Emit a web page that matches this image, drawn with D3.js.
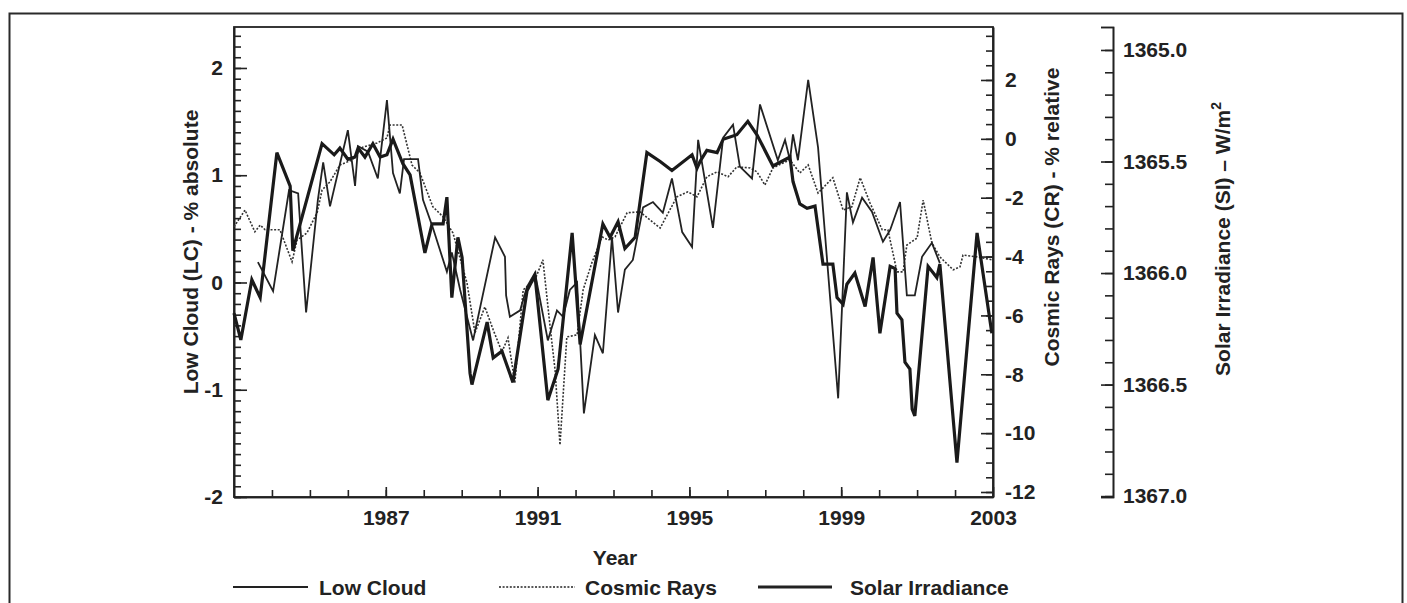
<!DOCTYPE html>
<html>
<head>
<meta charset="utf-8">
<script src="https://cdn.jsdelivr.net/npm/d3@7"></script>
<style>
body { margin: 0; background: #fff; }
svg text { font-family: "Liberation Sans", Arial, sans-serif; font-weight: bold; fill: #222; }
</style>
</head>
<body>
<div id="chart"></div>
<script>
// chart data
var lcYears = [1983.63, 1984.03, 1984.45, 1984.69, 1984.90, 1985.21, 1985.35, 1985.53, 1986.00, 1986.19,
    1986.27, 1986.53, 1986.79, 1987.03, 1987.19, 1987.37, 1987.48, 1987.85, 1987.98, 1988.24,
    1988.61, 1988.74, 1988.96, 1989.30, 1989.88, 1990.14, 1990.17, 1990.27, 1990.54, 1990.72,
    1990.93, 1991.27, 1991.51, 1991.67, 1991.85, 1992.04, 1992.22, 1992.51, 1992.72, 1992.96,
    1993.12, 1993.30, 1993.51, 1993.78, 1994.04, 1994.30, 1994.54, 1994.81, 1995.07, 1995.23,
    1995.62, 1995.89, 1996.15, 1996.33, 1996.65, 1996.86, 1997.33, 1997.52, 1997.65, 1997.73,
    1997.86, 1998.13, 1998.39, 1998.92, 1999.15, 1999.31, 1999.55, 1999.81, 2000.10, 2000.29,
    2000.55, 2000.73, 2000.94, 2001.13, 2001.39, 2001.60];
var lcValues = [0.19, -0.08, 0.86, 0.83, -0.28, 0.77, 1.12, 0.71, 1.42, 0.90,
    1.27, 1.22, 0.97, 1.70, 1.02, 0.83, 1.15, 1.15, 0.77, 0.51,
    0.10, 0.28, -0.07, -0.54, 0.42, 0.24, -0.12, -0.32, -0.26, -0.04,
    0.09, -0.54, -0.26, -0.32, -0.07, 0.00, -1.22, -0.49, -0.66, 0.42,
    -0.28, 0.12, 0.21, 0.70, 0.75, 0.65, 0.97, 0.47, 0.33, 1.33,
    0.51, 1.35, 1.47, 1.08, 0.97, 1.66, 1.14, 1.33, 1.14, 1.38,
    1.14, 1.89, 1.26, -1.08, 0.84, 0.56, 0.79, 0.66, 0.38, 0.49,
    0.75, -0.12, -0.12, 0.24, 0.37, 0.18];

var crYears = [1983.00, 1983.29, 1983.55, 1983.69, 1983.82, 1984.21, 1984.53, 1984.66, 1984.92, 1985.19,
    1985.32, 1985.53, 1985.79, 1986.11, 1986.40, 1986.77, 1987.03, 1987.11, 1987.43, 1987.69,
    1987.90, 1988.24, 1988.51, 1988.77, 1989.14, 1989.35, 1989.61, 1989.83, 1990.06, 1990.22,
    1990.40, 1990.62, 1990.93, 1991.14, 1991.33, 1991.46, 1991.59, 1991.77, 1992.04, 1992.20,
    1992.43, 1992.70, 1992.86, 1993.04, 1993.36, 1993.70, 1994.23, 1994.67, 1994.96, 1995.20,
    1995.46, 1995.73, 1996.02, 1996.25, 1996.60, 1996.78, 1996.99, 1997.20, 1997.47, 1997.65,
    1997.91, 1998.13, 1998.39, 1998.78, 1999.05, 1999.28, 1999.50, 1999.76, 2000.08, 2000.23,
    2000.47, 2000.63, 2000.73, 2001.00, 2001.16, 2001.39, 2001.60, 2001.95, 2002.13, 2002.21,
    2002.58, 2002.97];
var crValues = [-2.99, -2.42, -3.16, -2.93, -3.09, -3.09, -4.18, -3.44, -3.20, -2.51,
    -1.74, -1.46, -0.89, -0.72, -0.28, -0.14, 0.03, 0.47, 0.47, -0.89,
    -1.16, -2.31, -2.65, -3.20, -4.90, -6.59, -5.71, -6.49, -7.24, -6.76,
    -8.29, -5.13, -4.79, -4.11, -6.39, -7.85, -10.40, -6.73, -6.66, -5.13,
    -4.21, -3.33, -3.44, -3.33, -2.51, -2.48, -3.03, -1.97, -1.80, -1.97,
    -1.29, -1.12, -1.29, -0.95, -0.99, -1.12, -1.57, -0.99, -0.82, -0.72,
    -1.16, -0.89, -1.84, -1.32, -2.42, -2.31, -1.32, -2.18, -3.09, -3.09,
    -4.52, -4.52, -3.61, -3.37, -2.08, -3.54, -4.01, -4.45, -4.35, -3.95,
    -4.01, -4.11];

var siYears = [1983.00, 1983.18, 1983.47, 1983.69, 1984.13, 1984.48, 1984.55, 1985.32, 1985.64, 1985.79,
    1986.00, 1986.19, 1986.27, 1986.45, 1986.66, 1986.85, 1987.03, 1987.19, 1987.45, 1987.64,
    1988.03, 1988.22, 1988.51, 1988.61, 1988.74, 1988.90, 1989.01, 1989.22, 1989.27, 1989.67,
    1989.83, 1990.06, 1990.35, 1990.72, 1990.93, 1991.27, 1991.54, 1991.91, 1992.12, 1992.72,
    1992.91, 1993.12, 1993.30, 1993.57, 1993.88, 1994.23, 1994.54, 1995.07, 1995.20, 1995.28,
    1995.46, 1995.73, 1995.89, 1996.25, 1996.54, 1996.78, 1997.20, 1997.65, 1997.73, 1997.91,
    1998.10, 1998.31, 1998.52, 1998.78, 1998.89, 1999.05, 1999.15, 1999.36, 1999.63, 1999.84,
    2000.02, 2000.29, 2000.42, 2000.47, 2000.60, 2000.68, 2000.81, 2000.87, 2000.94, 2001.29,
    2001.52, 2001.60, 2002.05, 2002.58, 2002.97];
var siValues = [1366.18, 1366.30, 1366.03, 1366.11, 1365.46, 1365.61, 1365.90, 1365.42, 1365.47, 1365.44,
    1365.49, 1365.48, 1365.44, 1365.48, 1365.42, 1365.48, 1365.47, 1365.40, 1365.51, 1365.56,
    1365.91, 1365.78, 1365.78, 1365.66, 1366.11, 1365.84, 1365.93, 1366.45, 1366.50, 1366.22,
    1366.38, 1366.35, 1366.49, 1366.08, 1366.01, 1366.57, 1366.43, 1365.82, 1366.32, 1365.78,
    1365.84, 1365.77, 1365.89, 1365.84, 1365.46, 1365.50, 1365.54, 1365.47, 1365.53, 1365.50,
    1365.45, 1365.46, 1365.40, 1365.38, 1365.32, 1365.38, 1365.52, 1365.48, 1365.59, 1365.69,
    1365.71, 1365.70, 1365.96, 1365.96, 1366.11, 1366.14, 1366.05, 1366.00, 1366.15, 1365.93,
    1366.27, 1365.97, 1365.98, 1366.18, 1366.21, 1366.40, 1366.43, 1366.61, 1366.64, 1365.97,
    1366.02, 1365.96, 1366.85, 1365.82, 1366.27];

// tick values
var yearMajorTicks = [1987, 1991, 1995, 1999, 2003];
var lcMajorTicks = [-2, -1, 0, 1, 2];
var crMajorTicks = [-12, -10, -8, -6, -4, -2, 0, 2];
var siMajorTicks = [1365.0, 1365.5, 1366.0, 1366.5, 1367.0];

// set up the chart
var svgWidth = 1407;
var svgHeight = 603;
var margin = { top: 27, left: 234 };
var width = 993 - 234;
var height = 497 - 27;
var ink = "#222";

// plain hyphen for negatives, like the original
var fmtInt = d => String(d);
var fmtOne = d => d.toFixed(1);

var svg = d3.select("#chart")
    .append("svg")
    .attr("width", svgWidth)
    .attr("height", svgHeight);

// outer frame (runs off the bottom of the picture)
svg.append("rect")
    .attr("x", 9.5)
    .attr("y", 13.5)
    .attr("width", 1393)
    .attr("height", 700)
    .attr("fill", "none")
    .attr("stroke", "#2a2a2a")
    .attr("stroke-width", 2);

var chartGroup = svg.append("g")
    .attr("transform", `translate(${margin.left}, ${margin.top})`);

// scales
var xScale = d3.scaleLinear().domain([1983, 2003]).range([0, width]);
var lcScale = d3.scaleLinear().domain([-2, 2.382]).range([height, 0]);
var crScale = d3.scaleLinear().domain([-12.17, 3.80]).range([height, 0]);
var siScale = d3.scaleLinear().domain([1364.897, 1367.004]).range([0, height]);

function styleAxis(g, size) {
    g.selectAll("path, line").attr("stroke", ink).attr("stroke-width", 1.6);
    g.selectAll("text").attr("font-size", size);
}

// left axis (low cloud)
var lcMinor = chartGroup.append("g")
    .call(d3.axisLeft(lcScale)
        .tickValues(d3.range(-20, 24).map(i => i / 10))
        .tickSize(-7).tickSizeOuter(0).tickFormat(""));
styleAxis(lcMinor, 21);
var lcAxis = chartGroup.append("g")
    .call(d3.axisLeft(lcScale)
        .tickValues(lcMajorTicks)
        .tickSize(-13).tickSizeOuter(0).tickPadding(11)
        .tickFormat(fmtInt));
styleAxis(lcAxis, 21);

// bottom axis (year)
var xMinor = chartGroup.append("g")
    .attr("transform", `translate(0, ${height})`)
    .call(d3.axisBottom(xScale)
        .tickValues(d3.range(1984, 2003))
        .tickSize(-7).tickSizeOuter(0).tickFormat(""));
styleAxis(xMinor, 21);
var xAxis = chartGroup.append("g")
    .attr("transform", `translate(0, ${height})`)
    .call(d3.axisBottom(xScale)
        .tickValues(yearMajorTicks)
        .tickSize(-10).tickSizeOuter(0).tickPadding(13)
        .tickFormat(fmtInt));
styleAxis(xAxis, 21);

// right axis (cosmic rays)
var crMinor = chartGroup.append("g")
    .attr("transform", `translate(${width}, 0)`)
    .call(d3.axisRight(crScale)
        .tickValues(d3.range(-24, 8).map(i => i / 2))
        .tickSize(-7).tickSizeOuter(0).tickFormat(""));
styleAxis(crMinor, 21);
var crAxis = chartGroup.append("g")
    .attr("transform", `translate(${width}, 0)`)
    .call(d3.axisRight(crScale)
        .tickValues(crMajorTicks)
        .tickSize(-12).tickSizeOuter(0).tickPadding(12)
        .tickFormat(fmtInt));
styleAxis(crAxis, 21);

// separate axis for solar irradiance
var siX = 1113 - margin.left;
var siMinor = chartGroup.append("g")
    .attr("transform", `translate(${siX}, 0)`)
    .call(d3.axisRight(siScale)
        .tickValues(d3.range(0, 21).map(i => 1365 + i / 10))
        .tickSize(-8).tickSizeOuter(-12).tickFormat(""));
styleAxis(siMinor, 21);
var siAxis = chartGroup.append("g")
    .attr("transform", `translate(${siX}, 0)`)
    .call(d3.axisRight(siScale)
        .tickValues(siMajorTicks)
        .tickSize(-12).tickSizeOuter(-12).tickPadding(10)
        .tickFormat(fmtOne));
styleAxis(siAxis, 21);

// plot frame
chartGroup.append("rect")
    .attr("width", width)
    .attr("height", height)
    .attr("fill", "none")
    .attr("stroke", ink)
    .attr("stroke-width", 1.8);

// lines
var lcLine = d3.line().x(d => xScale(d[0])).y(d => lcScale(d[1]));
var crLine = d3.line().x(d => xScale(d[0])).y(d => crScale(d[1]));
var siLine = d3.line().x(d => xScale(d[0])).y(d => siScale(d[1]));

chartGroup.append("path")
    .datum(d3.zip(crYears, crValues))
    .attr("d", crLine)
    .attr("fill", "none")
    .attr("stroke", "#333")
    .attr("stroke-width", 1.6)
    .attr("stroke-dasharray", "2,1.6");

chartGroup.append("path")
    .datum(d3.zip(lcYears, lcValues))
    .attr("d", lcLine)
    .attr("fill", "none")
    .attr("stroke", ink)
    .attr("stroke-width", 1.8)
    .attr("stroke-linejoin", "miter");

chartGroup.append("path")
    .datum(d3.zip(siYears, siValues))
    .attr("d", siLine)
    .attr("fill", "none")
    .attr("stroke", "#1a1a1a")
    .attr("stroke-width", 3.2)
    .attr("stroke-linejoin", "miter");

// axis titles
svg.append("text")
    .attr("transform", "translate(198, 252) rotate(-90)")
    .attr("text-anchor", "middle")
    .attr("font-size", 21)
    .text("Low Cloud (LC) - % absolute");

svg.append("text")
    .attr("transform", "translate(1059, 217) rotate(-90)")
    .attr("text-anchor", "middle")
    .attr("font-size", 21)
    .text("Cosmic Rays (CR) - % relative");

var siTitle = svg.append("text")
    .attr("transform", "translate(1230, 239) rotate(-90)")
    .attr("text-anchor", "middle")
    .attr("font-size", 21);
siTitle.append("tspan").text("Solar Irradiance (SI) \u2013 W/m");
siTitle.append("tspan").attr("dy", -9).attr("font-size", 14).text("2");

svg.append("text")
    .attr("x", 615)
    .attr("y", 565)
    .attr("text-anchor", "middle")
    .attr("font-size", 21)
    .text("Year");

// legend
var legendItems = [
    { label: "Low Cloud", x1: 233, x2: 308, tx: 319, width: 1.8, dash: null },
    { label: "Cosmic Rays", x1: 499, x2: 575, tx: 585, width: 1.6, dash: "2,1.6" },
    { label: "Solar Irradiance", x1: 758, x2: 832, tx: 850, width: 3.2, dash: null }
];
var legend = svg.append("g");
legendItems.forEach(function(item) {
    legend.append("line")
        .attr("x1", item.x1).attr("x2", item.x2)
        .attr("y1", 587).attr("y2", 587)
        .attr("stroke", ink)
        .attr("stroke-width", item.width)
        .attr("stroke-dasharray", item.dash);
    legend.append("text")
        .attr("x", item.tx)
        .attr("y", 595)
        .attr("font-size", 21)
        .text(item.label);
});
</script>
</body>
</html>
